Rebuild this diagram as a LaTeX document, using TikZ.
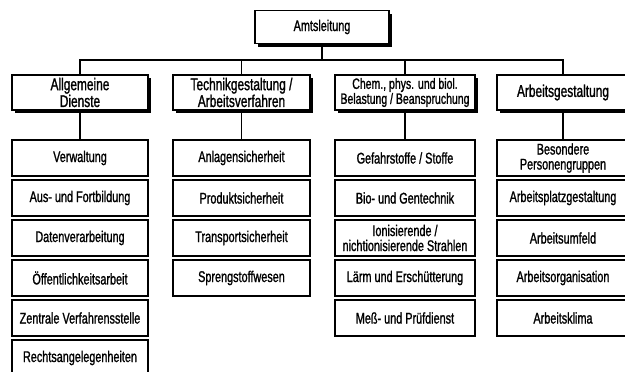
\documentclass[tikz,border=0pt]{standalone}
\usepackage{fontspec}
\setmainfont{Liberation Sans}[FakeStretch=0.7,FakeBold=1.2]
\usetikzlibrary{shadows}
\begin{document}
\begin{tikzpicture}[x=1pt,y=-1pt,
  every node/.style={font=\fontsize{15.5}{15}\selectfont, align=center, inner sep=0pt},
  headfont/.style={font=\fontsize{17}{15}\selectfont},
  headbox/.style={draw, fill=white, line width=1.6pt, minimum height=35pt, headfont,
     drop shadow={shadow xshift=3pt, shadow yshift=-3pt, fill=black, opacity=1}},
  itembox/.style={draw, fill=white, line width=1.6pt, minimum width=136pt, minimum height=36pt},
  conn/.style={line width=1.6pt}]
\useasboundingbox (0,0) rectangle (625,372);
\begin{scope}
\clip (0,0) rectangle (625,372);
% top
\node[headbox, minimum width=134pt, minimum height=33pt, font=\fontsize{15.5}{15}\selectfont] (top) at (322,27) {Amtsleitung};
% level 1
\node[headbox, minimum width=136pt] (c1) at (80,92.5) {Allgemeine\\Dienste};
\node[headbox, minimum width=137pt] (c2) at (241.5,92.5) {Technikgestaltung /\\Arbeitsverfahren};
\node[headbox, minimum width=140pt, font=\fontsize{15}{15}\selectfont] (c3) at (405,92.5) {Chem., phys. und biol.\\Belastung / Beanspruchung};
\node[headbox, minimum width=132pt] (c4) at (563,92.5) {Arbeitsgestaltung};
% column 1
\node[itembox] (a1) at (80,158) {Verwaltung};
\node[itembox] (a2) at (80,198) {Aus- und Fortbildung};
\node[itembox] (a3) at (80,238) {Datenverarbeitung};
\node[itembox] (a4) at (80,278) {Öffentlichkeitsarbeit};
\node[itembox] (a5) at (80,318) {Zentrale Verfahrensstelle};
\node[itembox] (a6) at (80,358) {Rechtsangelegenheiten};
% column 2
\node[itembox, minimum width=137pt] (b1) at (241.5,158) {Anlagensicherheit};
\node[itembox, minimum width=137pt] (b2) at (241.5,198) {Produktsicherheit};
\node[itembox, minimum width=137pt] (b3) at (241.5,238) {Transportsicherheit};
\node[itembox, minimum width=137pt] (b4) at (241.5,278) {Sprengstoffwesen};
% column 3
\node[itembox, minimum width=140pt] (d1) at (405,158) {Gefahrstoffe / Stoffe};
\node[itembox, minimum width=140pt] (d2) at (405,198) {Bio- und Gentechnik};
\node[itembox, minimum width=140pt] (d3) at (405,238) {Ionisierende /\\nichtionisierende Strahlen};
\node[itembox, minimum width=140pt] (d4) at (405,278) {Lärm und Erschütterung};
\node[itembox, minimum width=140pt] (d5) at (405,318) {Meß- und Prüfdienst};
% column 4
\node[itembox, minimum width=132pt] (e1) at (563,158) {Besondere\\Personengruppen};
\node[itembox, minimum width=132pt] (e2) at (563,198) {Arbeitsplatzgestaltung};
\node[itembox, minimum width=132pt] (e3) at (563,238) {Arbeitsumfeld};
\node[itembox, minimum width=132pt] (e4) at (563,278) {Arbeitsorganisation};
\node[itembox, minimum width=132pt] (e5) at (563,318) {Arbeitsklima};
% connectors
\coordinate (bus) at (322,60);
\draw[conn] (top.south) -- (bus);
\draw[conn] (bus) -| (c1.north);
\draw[conn] (bus) -| (c2.north);
\draw[conn] (bus) -| (c3.north);
\draw[conn] (bus) -| (c4.north);
\draw[conn] (c1.south) -- (a1.north);
\draw[conn] (c2.south) -- (b1.north);
\draw[conn] (c3.south) -- (d1.north);
\draw[conn] (c4.south) -- (e1.north);
\end{scope}
\end{tikzpicture}
\end{document}
